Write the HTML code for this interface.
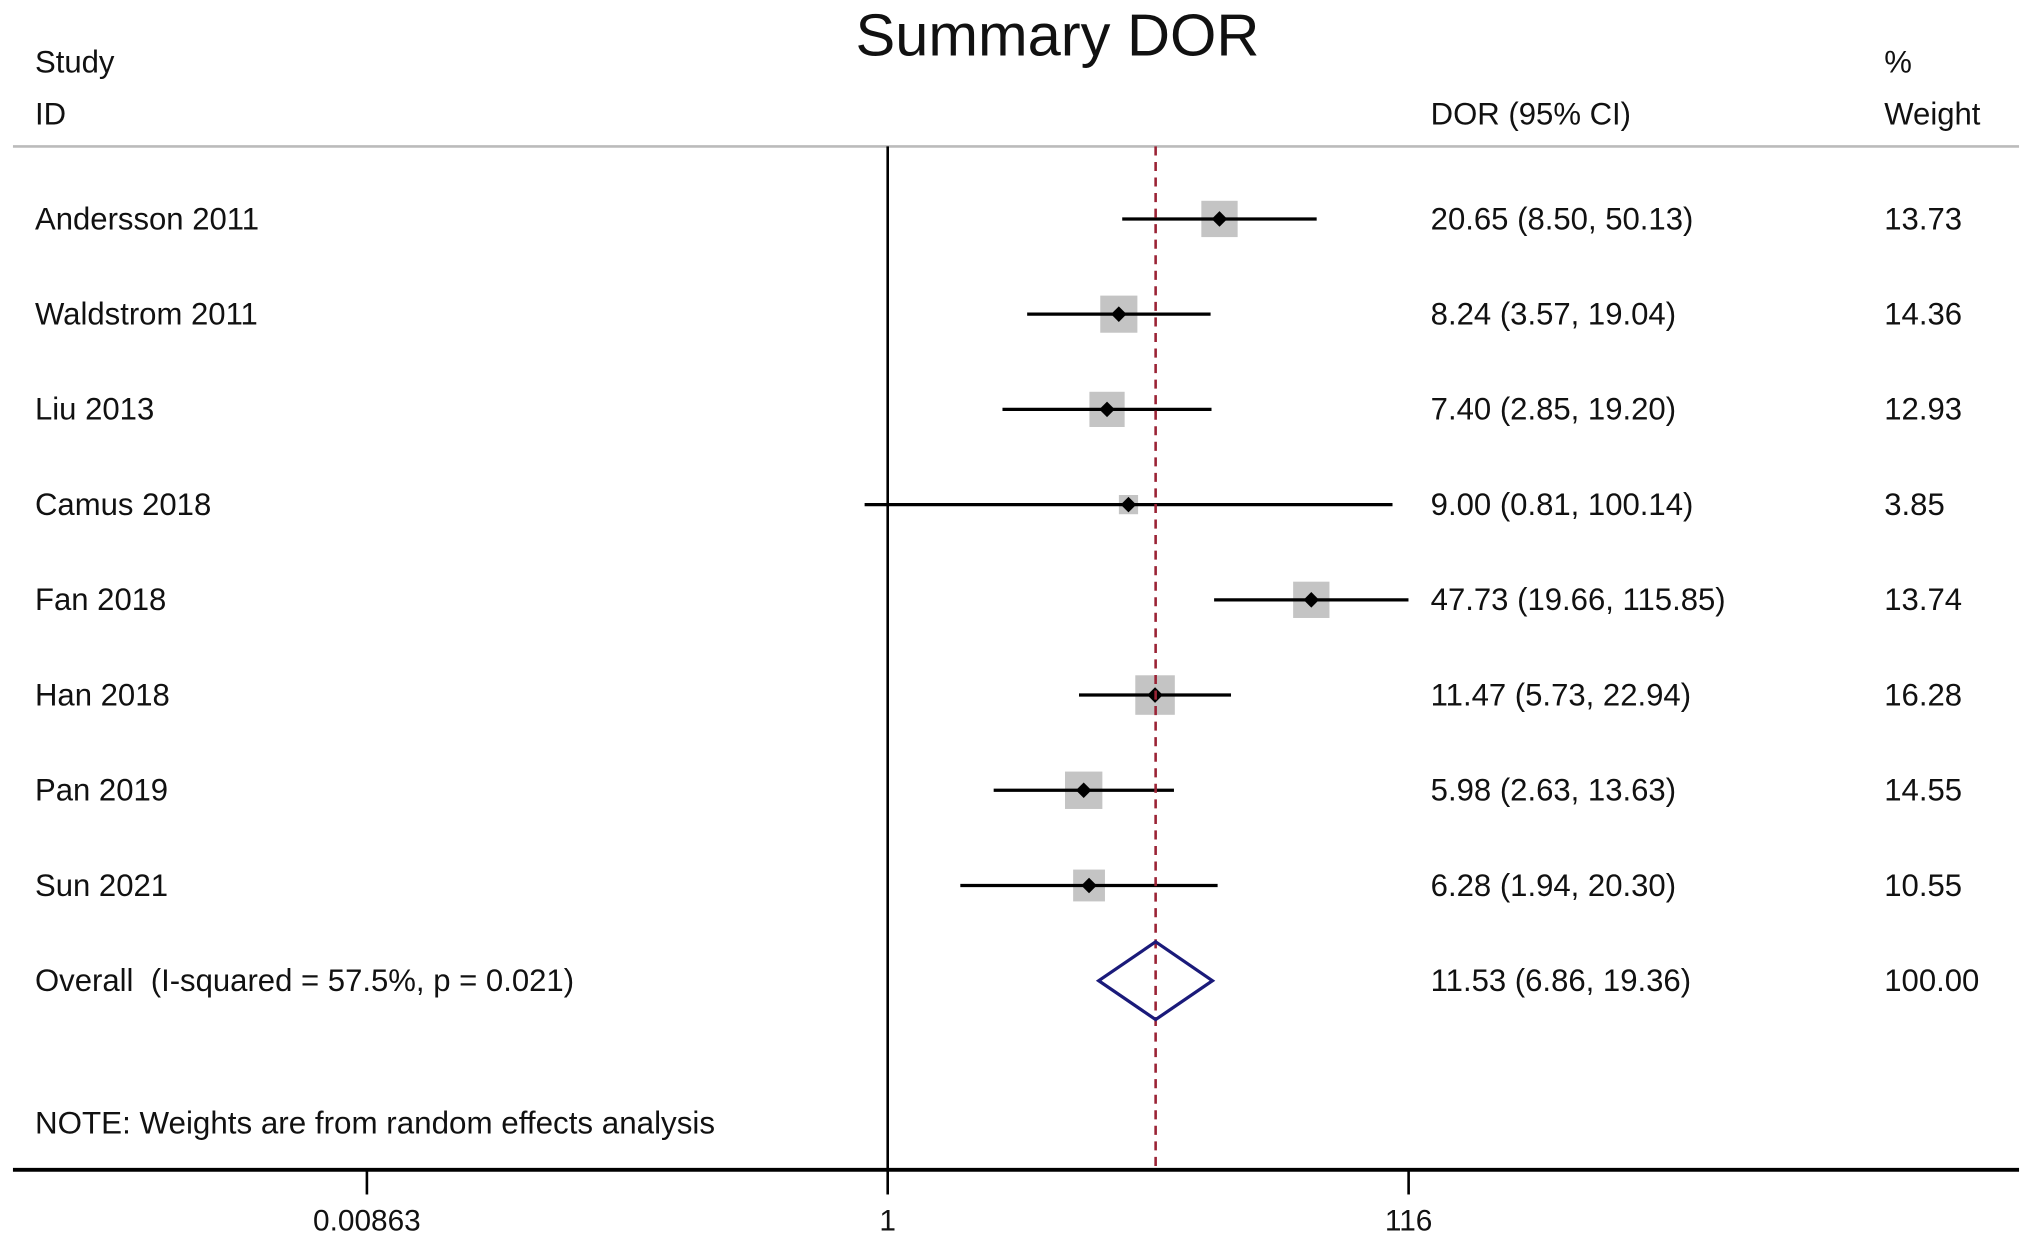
<!DOCTYPE html>
<html><head><meta charset="utf-8"><style>
html,body{margin:0;padding:0;background:#fff;}
svg{display:block;font-family:"Liberation Sans",Arial,sans-serif;}
</style></head><body>
<svg id="chart" width="2032" height="1245" viewBox="0 0 1568 961" preserveAspectRatio="none" xmlns="http://www.w3.org/2000/svg">
<rect width="1568" height="961" fill="#fff"/>
<text x="816" y="43" font-size="46" text-anchor="middle" fill="#111">Summary DOR</text>
<text x="27" y="56" font-size="24" fill="#111">Study</text>
<text x="27" y="96" font-size="24" fill="#111">ID</text>
<text x="1104" y="96" font-size="24" fill="#111">DOR (95% CI)</text>
<text x="1454" y="56" font-size="24" fill="#111">%</text>
<text x="1454" y="96" font-size="24" fill="#111">Weight</text>
<line x1="10" y1="113" x2="1558" y2="113" stroke="#bbb" stroke-width="2"/>
<line x1="685" y1="113" x2="685" y2="903" stroke="#000" stroke-width="2"/>
<g id="marks"></g>
<line x1="10" y1="903" x2="1558" y2="903" stroke="#000" stroke-width="3"/>
<g id="axis"></g>
<text x="27" y="875" font-size="24.2" fill="#111">NOTE: Weights are from random effects analysis</text>
</svg>
<script>
const studies=["Andersson 2011","Waldstrom 2011","Liu 2013","Camus 2018","Fan 2018","Han 2018","Pan 2019","Sun 2021"];
const dor=[20.65,8.24,7.40,9.00,47.73,11.47,5.98,6.28];
const lower=[8.50,3.57,2.85,0.81,19.66,5.73,2.63,1.94];
const upper=[50.13,19.04,19.20,100.14,115.85,22.94,13.63,20.30];
const weights=[13.73,14.36,12.93,3.85,13.74,16.28,14.55,10.55];
const overall=[11.53,6.86,19.36];
const overallLabel="Overall\u00a0\u00a0(I-squared = 57.5%, p = 0.021)";
const ticks=[0.00863,1,116];
const tickLabels=["0.00863","1","116"];

const NS="http://www.w3.org/2000/svg";
const X=v=>685+84.56*Math.log(v);
const rowY=i=>169+73.5*i;
const svg=document.getElementById('chart');
const marks=document.getElementById('marks');
const axis=document.getElementById('axis');
function mk(tag,attrs,parent){const e=document.createElementNS(NS,tag);for(const k in attrs)e.setAttribute(k,attrs[k]);parent.appendChild(e);return e;}
function txt(s,x,y,parent){const t=mk('text',{x:x,y:y,'font-size':24,fill:'#111'},parent);t.textContent=s;return t;}

studies.forEach((s,i)=>{
  const y=rowY(i);
  const l=txt(s,27,y+8,svg);
  
  
  const side=7.56*Math.sqrt(weights[i]);
  const b=mk('rect',{x:X(dor[i])-side/2,y:y-side/2,width:side,height:side,fill:'#c4c4c4'},marks);
  
  
  const ci=mk('line',{x1:X(lower[i]),y1:y,x2:X(upper[i]),y2:y,stroke:'#000','stroke-width':2.5},marks);
  
  
  const cx=X(dor[i]);
  const d=mk('polygon',{points:`${cx-6},${y} ${cx},${y-6} ${cx+6},${y} ${cx},${y+6}`,fill:'#000'},marks);
  
  
  const v=txt(`${dor[i].toFixed(2)} (${lower[i].toFixed(2)}, ${upper[i].toFixed(2)})`,1104,y+8,svg);
  
  
  const w=txt(weights[i].toFixed(2),1454,y+8,svg);
  
  
});
const oy=rowY(8);
const dash=mk('line',{x1:X(overall[0]),y1:113,x2:X(overall[0]),y2:903,stroke:'#9b2335','stroke-width':2,'stroke-dasharray':'7,5'},marks);


const dia=mk('polygon',{points:`${X(overall[1])},${oy} ${X(overall[0])},${oy-30} ${X(overall[2])},${oy} ${X(overall[0])},${oy+30}`,fill:'none',stroke:'#1a1a7a','stroke-width':2.5},marks);


const ol=txt(overallLabel,27,oy+8,svg);


const ov=txt(`${overall[0].toFixed(2)} (${overall[1].toFixed(2)}, ${overall[2].toFixed(2)})`,1104,oy+8,svg);


const ow=txt("100.00",1454,oy+8,svg);


ticks.forEach((t,i)=>{
  const tk=mk('line',{x1:X(t),y1:903,x2:X(t),y2:922,stroke:'#000','stroke-width':2},axis);
  
  
  const tl=txt(tickLabels[i],X(t),950,axis);
  tl.setAttribute('text-anchor','middle');
  tl.setAttribute('font-size','23');
  
  
});
</script>
</body></html>
